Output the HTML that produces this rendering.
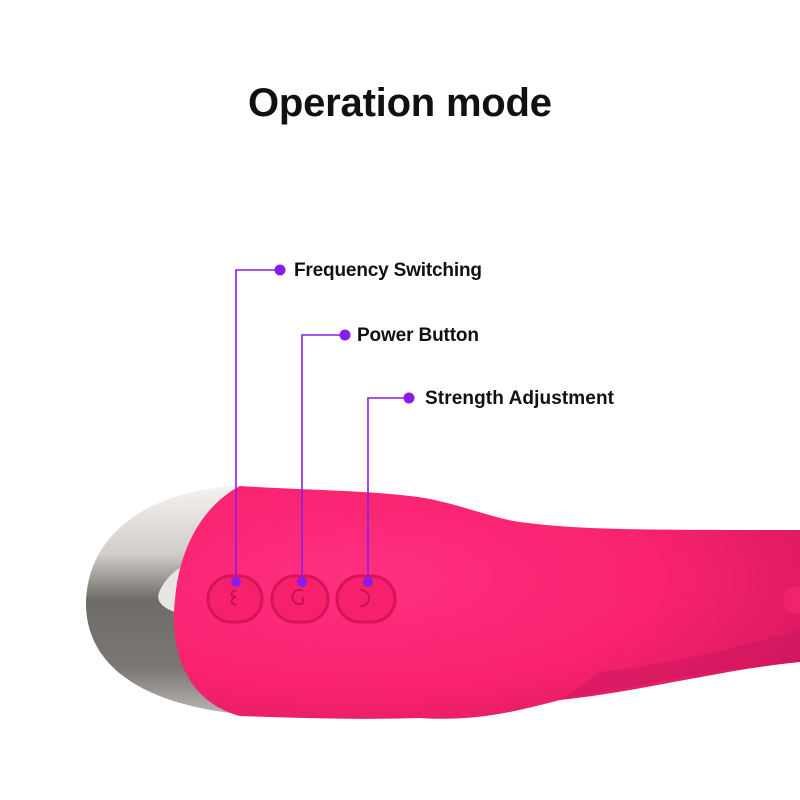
<!DOCTYPE html>
<html><head><meta charset="utf-8"><style>
html,body{margin:0;padding:0;background:#fff}
svg{display:block}
text{font-family:"Liberation Sans",sans-serif}
</style></head><body>
<svg width="800" height="800" viewBox="0 0 800 800" xmlns="http://www.w3.org/2000/svg">
<defs>
<linearGradient id="chrome" x1="0" y1="0" x2="0" y2="1">
<stop offset="0" stop-color="#f4f2ef"/><stop offset="0.3" stop-color="#d0cdc8"/><stop offset="0.5" stop-color="#6e6b68"/><stop offset="0.8" stop-color="#7a7774"/><stop offset="1" stop-color="#b9b6b2"/>
</linearGradient>
<radialGradient id="pink" cx="0.3" cy="0.4" r="0.8">
<stop offset="0" stop-color="#ff2f80"/><stop offset="0.6" stop-color="#f8226f"/><stop offset="1" stop-color="#d81860"/>
</radialGradient>
</defs>
<text x="400" y="116" font-size="40" font-weight="bold" text-anchor="middle" fill="#111" textLength="304">Operation mode</text>
<path d="M240 486 C170 488 90 520 86 600 C84 670 150 705 240 714 Z" fill="url(#chrome)"/>
<path d="M160 590 C170 570 190 560 205 560 L205 620 C185 615 150 610 160 590Z" fill="#e8e6e2"/>
<path d="M240 486 C300 490 360 490 410 496 C450 500 490 518 520 522 C580 530 640 530 800 530 L800 662 C720 670 650 690 560 700 C520 710 480 722 420 718 C360 720 300 718 240 716 C180 700 170 640 175 600 C178 560 195 510 240 486Z" fill="url(#pink)"/>
<path d="M560 700 C620 690 700 670 800 662 L800 630 C760 640 700 660 600 672Z" fill="#c8165a" opacity="0.45"/>
<ellipse cx="795" cy="600" rx="12" ry="14" fill="#f0246c"/>
<g fill="#f6206c" stroke="#d81458" stroke-width="3">
<rect x="208" y="576" width="54" height="46" rx="23"/>
<rect x="272" y="576" width="56" height="46" rx="23"/>
<rect x="337" y="576" width="58" height="46" rx="23"/>
</g>
<g fill="none" stroke="#c0104d" stroke-width="1.6">
<path d="M236 590 c-6 2 -6 6 0 7 c-6 2 -6 6 0 8"/>
<path d="M303 591 a7 7 0 1 0 0 12 v-6"/>
<path d="M360 590 c12 0 12 16 0 16"/>
</g>
<g stroke="#8a1cf0" stroke-width="1.6" fill="none">
<path d="M236 582 V270 H280"/>
<path d="M302 582 V335 H345"/>
<path d="M368 582 V398 H409"/>
</g>
<g fill="#8a1cf0">
<circle cx="236" cy="582" r="5"/><circle cx="302" cy="582" r="5"/><circle cx="368" cy="582" r="5"/>
<circle cx="280" cy="270" r="5.5"/><circle cx="345" cy="335" r="5.5"/><circle cx="409" cy="398" r="5.5"/>
</g>
<g font-size="19" fill="#111" font-weight="bold">
<text x="294" y="276" textLength="188">Frequency Switching</text>
<text x="357" y="341" textLength="122">Power Button</text>
<text x="425" y="404" textLength="189">Strength Adjustment</text>
</g>
</svg>
</body></html>
